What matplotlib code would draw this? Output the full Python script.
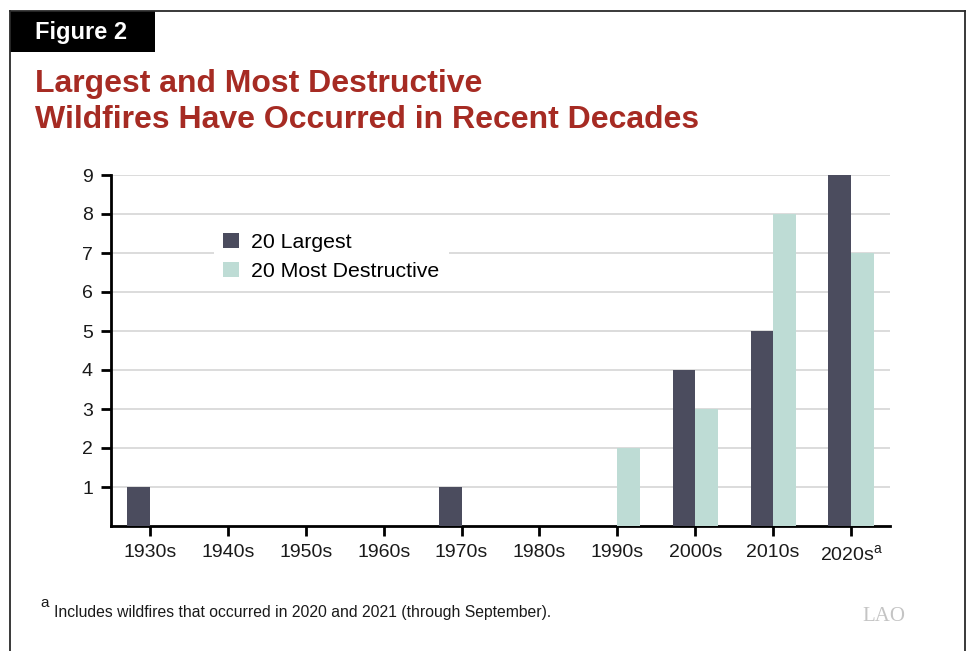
import matplotlib
matplotlib.use("Agg")
import matplotlib.pyplot as plt
import numpy as np
from matplotlib.lines import Line2D
from matplotlib.patches import Rectangle

plt.rcParams['font.family'] = ['Liberation Sans', 'DejaVu Sans']
plt.rcParams['mathtext.fontset'] = 'custom'
plt.rcParams['mathtext.rm'] = 'Liberation Sans'

decades = ["1930s", "1940s", "1950s", "1960s", "1970s", "1980s", "1990s", "2000s", "2010s", "2020s"]
largest = [1, 0, 0, 0, 1, 0, 0, 4, 5, 9]
destructive = [0, 0, 0, 0, 0, 0, 2, 3, 8, 7]
series_names = ["20 Largest", "20 Most Destructive"]
yticks = [1, 2, 3, 4, 5, 6, 7, 8, 9]

dark = "#4b4c5e"
light = "#bedcd5"
title_color = "#a62b23"

W, H = 969, 651
fig = plt.figure(figsize=(W / 100, H / 100), dpi=100)

# frame
frame_color = "#2a2a2a"
fig.add_artist(Line2D([10 / W, 10 / W], [0, 1 - 11 / H], transform=fig.transFigure, color=frame_color, lw=1.3))
fig.add_artist(Line2D([10 / W, 965 / W], [1 - 11 / H, 1 - 11 / H], transform=fig.transFigure, color=frame_color, lw=1.3))
fig.add_artist(Line2D([965 / W, 965 / W], [0, 1 - 11 / H], transform=fig.transFigure, color=frame_color, lw=1.3))
fig.add_artist(Rectangle((10 / W, 1 - 52 / H), 145 / W, 41 / H, transform=fig.transFigure, facecolor="black", edgecolor="none"))
fig.text(35 / W, 1 - 32 / H, "Figure 2", color="white", fontsize=17, fontweight="bold", va="center", ha="left")

fig.text(35 / W, 1 - 92 / H, "Largest and Most Destructive", color=title_color, fontsize=23, fontweight="bold", ha="left", va="baseline")
fig.text(35 / W, 1 - 128 / H, "Wildfires Have Occurred in Recent Decades", color=title_color, fontsize=23, fontweight="bold", ha="left", va="baseline")

ax = fig.add_axes([111 / W, 1 - 526 / H, 779 / W, 351 / H])
x = np.arange(len(decades))
bw = 0.29
ax.bar(x - bw / 2, largest, width=bw, color=dark, label=series_names[0], zorder=3)
ax.bar(x + bw / 2, destructive, width=bw, color=light, label=series_names[1], zorder=3)

ax.set_xlim(-0.5, len(decades) - 0.5)
ax.set_ylim(0, 9)
ax.set_yticks(yticks)
ax.yaxis.grid(True, color="#d6d6d6", lw=1.2, zorder=0)
ax.set_axisbelow(True)
for s in ["top", "right"]:
    ax.spines[s].set_visible(False)
ax.spines["left"].set_linewidth(2)
ax.spines["bottom"].set_linewidth(2)
ax.set_xticks(x)
labels = decades[:-1] + [decades[-1] + r"$^{\mathrm{a}}$"]
ax.set_xticklabels(labels)
ax.tick_params(axis="both", labelsize=14, width=2, length=7, color="black", labelcolor="#1a1a1a")
ax.tick_params(axis="x", pad=6)
ax.tick_params(axis="y", pad=6)

leg = ax.legend(loc="upper left", bbox_to_anchor=(0.118, 0.893), frameon=True, facecolor="white",
                edgecolor="none", framealpha=1, fancybox=False, fontsize=15.3, handlelength=0.75,
                handleheight=0.75, handletextpad=0.55, labelspacing=0.45, borderpad=0.45)
leg.set_zorder(5)

fig.text(40 / W, 1 - 607 / H, "a", fontsize=11, color="#1a1a1a", ha="left", va="baseline")
fig.text(54 / W, 1 - 617 / H, "Includes wildfires that occurred in 2020 and 2021 (through September).", fontsize=11.3, color="#1a1a1a", ha="left", va="baseline")
fig.text(862 / W, 1 - 621 / H, "LAO", fontsize=15, color="#c4c4c4", family="Liberation Serif", ha="left", va="baseline")

fig.savefig("out.png", dpi=100)
